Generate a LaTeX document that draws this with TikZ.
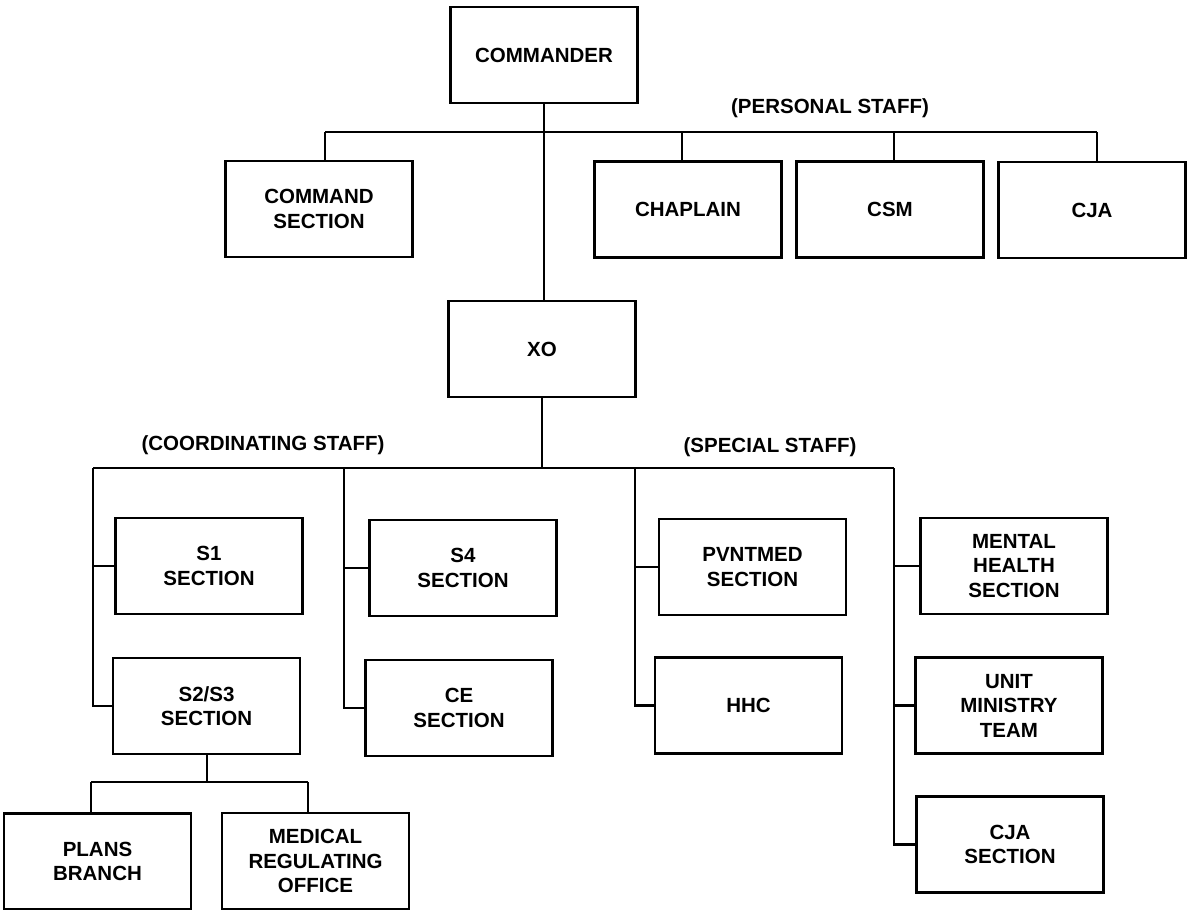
\documentclass[tikz,border=0pt]{standalone}
\usepackage{fontspec}
\setmainfont{Liberation Sans}
\begin{document}
\begin{tikzpicture}[x=1pt,y=-1pt,
  box/.style={draw,line width=2.9pt,minimum width=187pt,minimum height=96pt,
    align=center,inner sep=0pt,font=\fontsize{20.5}{24.5}\selectfont\bfseries},
  link/.style={line width=2.4pt},
  grouplabel/.style={font=\fontsize{20.5}{24}\selectfont\bfseries,inner sep=0pt}]
\useasboundingbox (0,0) rectangle (1187,910);

% top level
\node[box] (cmd) at (544,55) {COMMANDER};
\node[box] (cmdsec) at (319,209) {COMMAND\\SECTION};
\node[box] (chap) at (688,209.5) {CHAPLAIN};
\node[box] (csm) at (890,209.5) {CSM};
\node[box] (cja) at (1092,210) {CJA};
\node[grouplabel] (perslbl) at (830,108) {(PERSONAL STAFF)};

\node[box] (xo) at (542,349) {XO};

% coordinating staff
\node[box] (s1) at (209,566) {S1\\SECTION};
\node[box] (s23) at (206.5,706) {S2/S3\\SECTION};
\node[box] (s4) at (463,568) {S4\\SECTION};
\node[box] (ce) at (459,708) {CE\\SECTION};
\node[box] (plans) at (97.5,861.5) {PLANS\\BRANCH};
\node[box] (medreg) at (315.5,861) {MEDICAL\\REGULATING\\OFFICE};
\node[grouplabel] (coordlbl) at (263,445) {(COORDINATING STAFF)};

% special staff
\node[box] (pvnt) at (752.5,567) {PVNTMED\\SECTION};
\node[box] (hhc) at (748.5,705.5) {HHC};
\node[box] (mental) at (1014,566) {MENTAL\\HEALTH\\SECTION};
\node[box] (umt) at (1009,705.5) {UNIT\\MINISTRY\\TEAM};
\node[box] (cjasec) at (1010,844.5) {CJA\\SECTION};
\node[grouplabel] (speclbl) at (770,447) {(SPECIAL STAFF)};

% personal staff bus
\coordinate (pj1) at (325,132);
\coordinate (pj2) at (682,132);
\coordinate (pj3) at (894,132);
\coordinate (pj4) at (1097,132);
\draw[link] (cmd.south) -- (cmd.south |- xo.north);
\draw[link] (pj1) -- (pj4);
\draw[link] (pj1) -- (pj1 |- cmdsec.north);
\draw[link] (pj2) -- (pj2 |- chap.north);
\draw[link] (pj3) -- (pj3 |- csm.north);
\draw[link] (pj4) -- (pj4 |- cja.north);

% staff bus below XO
\coordinate (cb1) at (93,468);
\coordinate (cb2) at (344,468);
\coordinate (cb3) at (635,468);
\coordinate (cb4) at (894,468);
\draw[link] (xo.south) -- (xo.south |- cb1);
\draw[link] (cb1) -- (cb4);

\draw[link] (cb1) |- (s23.west);
\draw[link] (s1.west) -- (s1.west -| cb1);
\draw[link] (cb2) |- (ce.west);
\draw[link] (s4.west) -- (s4.west -| cb2);
\draw[link] (cb3) |- (hhc.west);
\draw[link] (pvnt.west) -- (pvnt.west -| cb3);
\draw[link] (cb4) |- (cjasec.west);
\draw[link] (mental.west) -- (mental.west -| cb4);
\draw[link] (umt.west) -- (umt.west -| cb4);

% S2/S3 subordinate elements
\coordinate (sb) at (207,782);
\coordinate (sb1) at (91,782);
\coordinate (sb2) at (308,782);
\draw[link] (s23.south -| sb) -- (sb);
\draw[link] (sb1) -- (sb2);
\draw[link] (sb1) -- (sb1 |- plans.north);
\draw[link] (sb2) -- (sb2 |- medreg.north);
\end{tikzpicture}
\end{document}
